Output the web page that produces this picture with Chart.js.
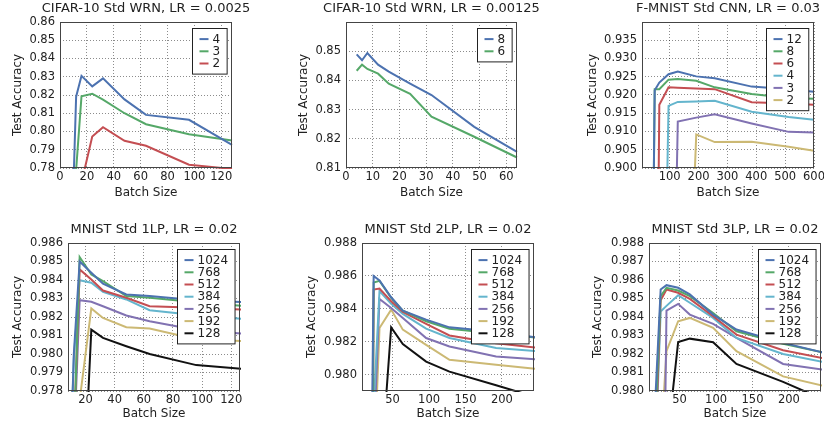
<!DOCTYPE html>
<html>
<head>
<meta charset="utf-8">
<title>Test accuracy vs batch size</title>
<script src="https://cdn.jsdelivr.net/npm/chart.js@4.4.1/dist/chart.umd.min.js"></script>
<style>
  html, body { margin: 0; padding: 0; background: #fff; overflow: hidden; }
  body { width: 824px; height: 425px; position: relative; }
  canvas { position: absolute; }
</style>
</head>
<body>
<canvas id="p1"></canvas>
<canvas id="p2"></canvas>
<canvas id="p3"></canvas>
<canvas id="p4"></canvas>
<canvas id="p5"></canvas>
<canvas id="p6"></canvas>
<script>
// ---- data ----
// CIFAR-10 WRN, LR = 0.0025
const wrnBatchA = [8, 12, 16, 24, 32, 48, 64, 96, 128];
const wrnA_4 = [0.722, 0.8191, 0.8305, 0.8247, 0.8291, 0.8176, 0.8091, 0.8064, 0.7927];
const wrnA_3 = [null, 0.7790, 0.8193, 0.8207, 0.8175, 0.8100, 0.8040, 0.7985, 0.7951];
const wrnA_2 = [null, null, 0.7720, 0.7973, 0.8024, 0.7949, 0.7922, 0.7818, 0.7795];

// CIFAR-10 WRN, LR = 0.00125
const wrnBatchB = [4, 6, 8, 12, 16, 24, 32, 48, 64];
const wrnB_8 = [0.8489, 0.8469, 0.8494, 0.8454, 0.8430, 0.8389, 0.8350, 0.8241, 0.8155];
const wrnB_6 = [0.8433, 0.8454, 0.8439, 0.8423, 0.8389, 0.8354, 0.8276, 0.8207, 0.8136];

// F-MNIST CNN, LR = 0.03
const fmBatch = [32, 48, 64, 96, 128, 192, 256, 384, 512, 600];
const fm_12 = [0.80, 0.9213, 0.9234, 0.9257, 0.9264, 0.9251, 0.9246, 0.9223, 0.9216, 0.9209];
const fm_8  = [0.80, 0.9216, 0.9216, 0.9242, 0.9244, 0.9239, 0.9221, 0.9203, 0.9192, 0.9190];
const fm_6  = [null, 0.78, 0.9173, 0.9221, 0.9220, 0.9218, 0.9216, 0.9180, 0.9177, 0.9173];
const fm_4  = [null, null, 0.78, 0.9170, 0.9181, 0.9182, 0.9184, 0.9154, 0.9140, 0.9132];
const fm_3  = [null, null, null, 0.78, 0.9127, 0.9138, 0.9147, 0.9122, 0.9099, 0.9097];
const fm_2  = [null, null, null, null, 0.78, 0.9092, 0.9071, 0.9072, 0.9058, 0.9047];

// MNIST 1LP, LR = 0.02
const lp1Batch = [8, 12, 16, 24, 32, 48, 64, 96, 128];
const lp1_1024 = [0.970, 0.9800, 0.9850, 0.98439, 0.98380, 0.98322, 0.98313, 0.9829, 0.9828];
const lp1_768  = [null, 0.9753, 0.98524, 0.9843, 0.98394, 0.98313, 0.98304, 0.9828, 0.9826];
const lp1_512  = [null, 0.9755, 0.98457, 0.98403, 0.98343, 0.98304, 0.98258, 0.9825, 0.9824];
const lp1_384  = [0.970, 0.9798, 0.98399, 0.98385, 0.98336, 0.98295, 0.98237, 0.9821, 0.9819];
const lp1_256  = [null, 0.9750, 0.98291, 0.98282, 0.98258, 0.98208, 0.98177, 0.9813, 0.9811];
const lp1_192  = [null, null, 0.9775, 0.98246, 0.98195, 0.98145, 0.98138, 0.9808, 0.9807];
const lp1_128  = [null, null, 0.968, 0.98132, 0.98087, 0.98042, 0.98000, 0.9794, 0.9792];

// MNIST 2LP, LR = 0.02
const lp2Batch = [16, 24, 32, 48, 64, 96, 128, 192, 256];
const lp2_1024 = [0.955, 0.98599, 0.98572, 0.98470, 0.98389, 0.98334, 0.98287, 0.9826, 0.9822];
const lp2_768  = [0.920, 0.98560, 0.98570, 0.98466, 0.98389, 0.98324, 0.98279, 0.9825, 0.9822];
const lp2_512  = [0.920, 0.98517, 0.98523, 0.98446, 0.98381, 0.98308, 0.98238, 0.9819, 0.9816];
const lp2_384  = [null, 0.9780, 0.98507, 0.98430, 0.98369, 0.98279, 0.98222, 0.98161, 0.9814];
const lp2_256  = [null, 0.97563, 0.98460, 0.98405, 0.98344, 0.98222, 0.98171, 0.9811, 0.9809];
const lp2_192  = [null, 0.97355, 0.98283, 0.98395, 0.98273, 0.98181, 0.98090, 0.98059, 0.9803];
const lp2_128  = [null, null, 0.97305, 0.98287, 0.98185, 0.98079, 0.98018, 0.97935, 0.9785];

// MNIST 3LP, LR = 0.02
const lp3Batch = [16, 24, 32, 48, 64, 96, 128, 192, 256];
const lp3_1024 = [0.9790, 0.98549, 0.98572, 0.98558, 0.98522, 0.98413, 0.98332, 0.9826, 0.9820];
const lp3_768  = [0.97767, 0.98513, 0.98558, 0.98543, 0.98513, 0.98422, 0.98323, 0.98255, 0.9820];
const lp3_512  = [0.97621, 0.98490, 0.98549, 0.98531, 0.98498, 0.98404, 0.98305, 0.9822, 0.9817];
const lp3_384  = [0.9757, 0.98430, 0.98460, 0.98518, 0.98477, 0.98395, 0.98287, 0.9820, 0.9815];
const lp3_256  = [null, 0.9595, 0.98435, 0.98471, 0.98413, 0.98363, 0.98287, 0.98146, 0.9811];
const lp3_192  = [null, 0.97695, 0.98215, 0.98377, 0.98395, 0.98341, 0.98215, 0.98079, 0.9802];
const lp3_128  = [null, null, 0.97684, 0.98265, 0.98283, 0.98264, 0.98146, 0.98049, 0.9794];

// tick labels
const xTicks1 = [0, 20, 40, 60, 80, 100, 120];
const yTicks1 = [0.78, 0.79, 0.80, 0.81, 0.82, 0.83, 0.84, 0.85, 0.86];
const xTicks2 = [0, 10, 20, 30, 40, 50, 60];
const yTicks2 = [0.81, 0.82, 0.83, 0.84, 0.85];
const xTicks3 = [100, 200, 300, 400, 500, 600];
const yTicks3 = [0.900, 0.905, 0.910, 0.915, 0.920, 0.925, 0.930, 0.935];
const xTicks4 = [20, 40, 60, 80, 100, 120];
const yTicks4 = [0.978, 0.979, 0.980, 0.981, 0.982, 0.983, 0.984, 0.985, 0.986];
const xTicks5 = [50, 100, 150, 200];
const yTicks5 = [0.980, 0.982, 0.984, 0.986, 0.988];
const yTicks6 = [0.980, 0.981, 0.982, 0.983, 0.984, 0.985, 0.986, 0.987, 0.988];

// seaborn-ish palette
const C = {
  blue: '#4C72B0', green: '#55A868', red: '#C44E52',
  cyan: '#64B5CD', purple: '#8172B2', yellow: '#CCB974', black: '#111111'
};
const TEXT = '#222222';
const GRID = 'rgba(0,0,0,0.45)';

Chart.defaults.font.family = '"DejaVu Sans", sans-serif';
Chart.defaults.color = TEXT;

// frame, legend box and title drawn on top of the lines
const panelDeco = {
  id: 'panelDeco',
  afterDatasetsDraw(chart, args, opts) {
    const { ctx, chartArea: a } = chart;
    ctx.save();
    // axes frame
    ctx.strokeStyle = '#444';
    ctx.lineWidth = 1;
    ctx.setLineDash([]);
    ctx.strokeRect(Math.round(a.left) + 0.5, Math.round(a.top) + 0.5,
      Math.round(a.right - a.left) - 1, Math.round(a.bottom - a.top) - 1);

    // legend, upper right inside the axes
    const ds = chart.data.datasets;
    ctx.font = '12px "DejaVu Sans"';
    const textW = Math.max(...ds.map(d => ctx.measureText(d.label).width));
    const rowH = 12.2, padX = 7, handle = 9, gap = 4, padY = 4.5;
    const w = padX + handle + gap + textW + padX;
    const h = padY * 2 + ds.length * rowH;
    const x = Math.round(a.right - 5.5 - w) + 0.5;
    const y = Math.round(a.top + 6) + 0.5;
    ctx.fillStyle = '#fff';
    ctx.fillRect(x, y, w, h);
    ctx.strokeStyle = '#222';
    ctx.strokeRect(x, y, w, h);
    ds.forEach((d, i) => {
      const cy = y + padY + rowH * (i + 0.5);
      ctx.strokeStyle = d.borderColor;
      ctx.lineWidth = 2;
      ctx.beginPath();
      ctx.moveTo(x + padX, cy);
      ctx.lineTo(x + padX + handle, cy);
      ctx.stroke();
      ctx.fillStyle = TEXT;
      ctx.textAlign = 'left';
      ctx.textBaseline = 'middle';
      ctx.fillText(d.label, x + padX + handle + gap, cy + 0.5);
    });

    // title
    ctx.font = '13px "DejaVu Sans"';
    ctx.fillStyle = TEXT;
    ctx.textAlign = 'center';
    ctx.textBaseline = 'alphabetic';
    ctx.fillText(opts.title, (a.left + a.right) / 2, a.top - 9.8);
    ctx.restore();
  }
};

// canvas margins round the plot area (right one is wide so titles fit)
const YW = 58, XH = 36, TOP = 22, RIGHT = 44;

function makePanel(id, area, p) {
  const cv = document.getElementById(id);
  const w = YW + (area.right - area.left) + RIGHT;
  const h = TOP + (area.bottom - area.top) + XH;
  cv.width = w;
  cv.height = h;
  cv.style.width = w + 'px';
  cv.style.height = h + 'px';
  cv.style.left = (area.left - YW) + 'px';
  cv.style.top = (area.top - TOP) + 'px';

  const tickFont = { size: 11.5 };
  const titleFont = { size: 12 };

  new Chart(cv, {
    type: 'line',
    data: {
      datasets: p.series.map(s => ({
        label: s.label,
        data: p.batch.map((b, i) => ({ x: b, y: s.values[i] })),
        borderColor: s.color,
        backgroundColor: s.color,
        borderWidth: 2,
        pointRadius: 0,
        tension: 0,
        clip: 1
      }))
    },
    options: {
      responsive: false,
      animation: false,
      devicePixelRatio: 1,
      layout: { padding: { top: TOP, right: RIGHT, left: 0, bottom: 0 } },
      plugins: {
        legend: { display: false },
        tooltip: { enabled: false },
        panelDeco: { title: p.title }
      },
      scales: {
        x: {
          type: 'linear',
          min: p.xMin,
          max: p.xMax,
          afterBuildTicks: ax => { ax.ticks = p.xTicks.map(v => ({ value: v })); },
          afterFit: ax => { ax.height = XH; },
          ticks: { autoSkip: false, maxRotation: 0, padding: 2, font: tickFont, color: TEXT,
                   callback: v => String(v) },
          grid: { color: GRID, lineWidth: 1, drawTicks: false },
          border: { display: false, dash: [1, 2] },
          title: { display: true, text: 'Batch Size', font: titleFont, color: TEXT,
                   padding: { top: 0, bottom: XH - 7.2 - p.xTitleOff } }
        },
        y: {
          type: 'linear',
          min: p.yMin,
          max: p.yMax,
          afterBuildTicks: ax => { ax.ticks = p.yTicks.map(v => ({ value: v })); },
          afterFit: ax => { ax.width = YW; },
          ticks: { autoSkip: false, padding: 5, font: tickFont, color: TEXT,
                   callback: v => v.toFixed(p.yDec) },
          grid: { color: GRID, lineWidth: 1, drawTicks: false },
          border: { display: false, dash: [1, 2] },
          title: { display: true, text: 'Test Accuracy', font: titleFont, color: TEXT,
                   padding: { top: YW - p.yTitleOff - 7.2, bottom: 0 } }
        }
      }
    },
    plugins: [panelDeco]
  });
}

makePanel('p1', { left: 60, top: 22, right: 232, bottom: 168 }, {
  title: 'CIFAR-10 Std WRN, LR = 0.0025',
  batch: wrnBatchA,
  series: [
    { label: '4', values: wrnA_4, color: C.blue },
    { label: '3', values: wrnA_3, color: C.green },
    { label: '2', values: wrnA_2, color: C.red }
  ],
  xMin: 0, xMax: 128, xTicks: xTicks1,
  yMin: 0.78, yMax: 0.86, yTicks: yTicks1, yDec: 2,
  yTitleOff: 42.5, xTitleOff: 24.5
});

makePanel('p2', { left: 346, top: 22, right: 517, bottom: 168 }, {
  title: 'CIFAR-10 Std WRN, LR = 0.00125',
  batch: wrnBatchB,
  series: [
    { label: '8', values: wrnB_8, color: C.blue },
    { label: '6', values: wrnB_6, color: C.green }
  ],
  xMin: 0, xMax: 64, xTicks: xTicks2,
  yMin: 0.81, yMax: 0.86, yTicks: yTicks2, yDec: 2,
  yTitleOff: 42.2, xTitleOff: 24.5
});

makePanel('p3', { left: 642, top: 22, right: 814, bottom: 168 }, {
  title: 'F-MNIST Std CNN, LR = 0.03',
  batch: fmBatch,
  series: [
    { label: '12', values: fm_12, color: C.blue },
    { label: '8', values: fm_8, color: C.green },
    { label: '6', values: fm_6, color: C.red },
    { label: '4', values: fm_4, color: C.cyan },
    { label: '3', values: fm_3, color: C.purple },
    { label: '2', values: fm_2, color: C.yellow }
  ],
  xMin: 4, xMax: 600, xTicks: xTicks3,
  yMin: 0.90, yMax: 0.94, yTicks: yTicks3, yDec: 3,
  yTitleOff: 49, xTitleOff: 24.5
});

const mlpSeries = (v1024, v768, v512, v384, v256, v192, v128) => [
  { label: '1024', values: v1024, color: C.blue },
  { label: '768', values: v768, color: C.green },
  { label: '512', values: v512, color: C.red },
  { label: '384', values: v384, color: C.cyan },
  { label: '256', values: v256, color: C.purple },
  { label: '192', values: v192, color: C.yellow },
  { label: '128', values: v128, color: C.black }
];

makePanel('p4', { left: 68, top: 243, right: 240, bottom: 391 }, {
  title: 'MNIST Std 1LP, LR = 0.02',
  batch: lp1Batch,
  series: mlpSeries(lp1_1024, lp1_768, lp1_512, lp1_384, lp1_256, lp1_192, lp1_128),
  xMin: 8, xMax: 126, xTicks: xTicks4,
  yMin: 0.978, yMax: 0.986, yTicks: yTicks4, yDec: 3,
  yTitleOff: 49.7, xTitleOff: 23
});

makePanel('p5', { left: 362, top: 243, right: 534, bottom: 391 }, {
  title: 'MNIST Std 2LP, LR = 0.02',
  batch: lp2Batch,
  series: mlpSeries(lp2_1024, lp2_768, lp2_512, lp2_384, lp2_256, lp2_192, lp2_128),
  xMin: 8, xMax: 244, xTicks: xTicks5,
  yMin: 0.979, yMax: 0.988, yTicks: yTicks5, yDec: 3,
  yTitleOff: 50, xTitleOff: 23
});

makePanel('p6', { left: 649, top: 243, right: 821, bottom: 391 }, {
  title: 'MNIST Std 3LP, LR = 0.02',
  batch: lp3Batch,
  series: mlpSeries(lp3_1024, lp3_768, lp3_512, lp3_384, lp3_256, lp3_192, lp3_128),
  xMin: 8, xMax: 244, xTicks: xTicks5,
  yMin: 0.980, yMax: 0.988, yTicks: yTicks6, yDec: 3,
  yTitleOff: 51, xTitleOff: 23
});
</script>
</body>
</html>
